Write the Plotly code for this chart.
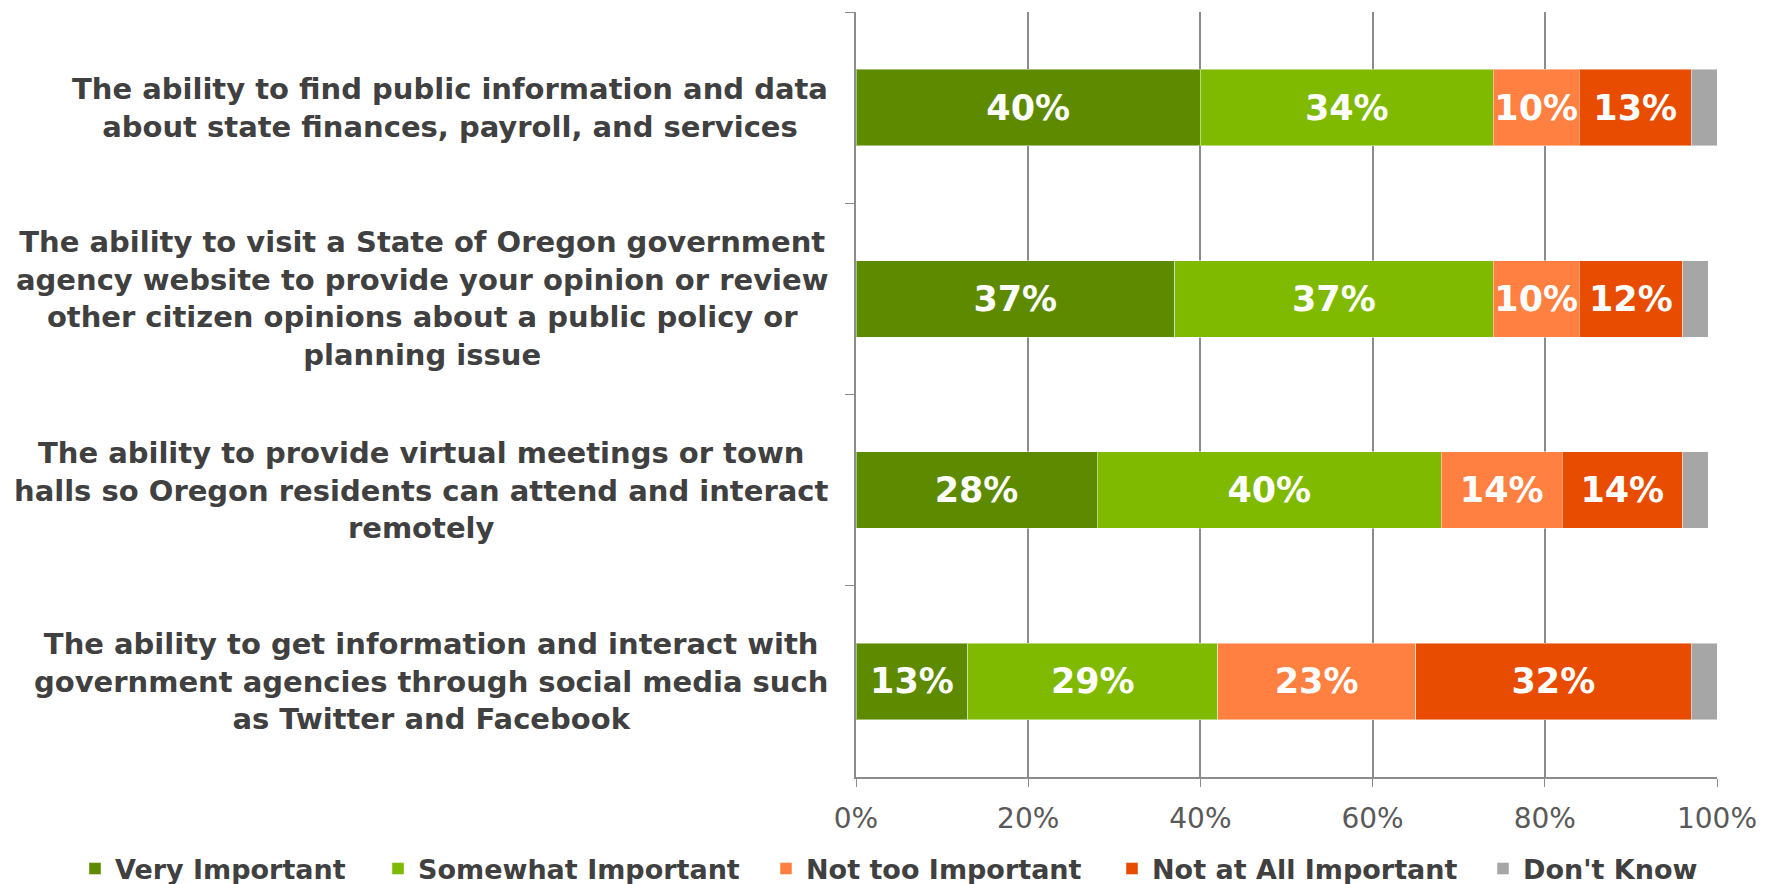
import plotly.graph_objects as go

categories = [
    "The ability to find public information and data<br>about state finances, payroll, and services",
    "The ability to visit a State of Oregon government<br>agency website to provide your opinion or review<br>other citizen opinions about a public policy or<br>planning issue",
    "The ability to provide virtual meetings or town<br>halls so Oregon residents can attend and interact<br>remotely",
    "The ability to get information and interact with<br>government agencies through social media such<br>as Twitter and Facebook",
]
series_names = ["Very Important", "Somewhat Important", "Not too Important", "Not at All Important", "Don't Know"]
very_important = [40, 37, 28, 13]
somewhat_important = [34, 37, 40, 29]
not_too_important = [10, 10, 14, 23]
not_at_all_important = [13, 12, 14, 32]
dont_know = [3, 3, 3, 3]
x_ticks = [0, 20, 40, 60, 80, 100]
x_tick_labels = ["0%", "20%", "40%", "60%", "80%", "100%"]

colors = ["#5E8A00", "#7FBA00", "#FF8040", "#E84C00", "#A6A6A6"]
series = [very_important, somewhat_important, not_too_important, not_at_all_important, dont_know]
legend_left_px = [67, 370, 758, 1104, 1475]

ykeys = [f"c{i}" for i in range(len(categories))]

FONT = "DejaVu Sans, Verdana, sans-serif"
W, H = 1769, 884

fig = go.Figure()
for i, (name, vals, col) in enumerate(zip(series_names, series, colors)):
    show_text = name != "Don't Know"
    lg = "legend" if i == 0 else f"legend{i+1}"
    fig.add_trace(go.Bar(
        y=ykeys, x=vals, name=name, orientation="h",
        marker=dict(color=col, line=dict(color="rgba(255,255,255,0.45)", width=1)),
        width=0.4,
        text=[f"{v}%" for v in vals] if show_text else None,
        textposition="inside" if show_text else "none",
        insidetextanchor="middle",
        constraintext="none",
        textfont=dict(family=FONT, size=35, color="white", weight="bold"),
        hoverinfo="skip",
        legend=lg,
    ))

for k, label in zip(ykeys, categories):
    fig.add_annotation(
        x=0, xref="paper", y=k, yref="y",
        text=f"<b>{label}</b>", showarrow=False,
        xanchor="right", yanchor="middle", align="center", xshift=-26,
        font=dict(family=FONT, size=29, color="#404040"),
    )

legend_common = dict(
    orientation="h", xref="container", yref="container",
    xanchor="left", yanchor="middle", y=1 - 861 / H,
    font=dict(family=FONT, size=27, color="#404040", weight="bold"),
    itemwidth=30, bgcolor="rgba(0,0,0,0)",
)
legends = {}
for i, px in enumerate(legend_left_px):
    key = "legend" if i == 0 else f"legend{i+1}"
    legends[key] = dict(legend_common, x=px / W)

fig.update_layout(
    width=W, height=H,
    margin=dict(l=848, r=60, t=4, b=115, autoexpand=False),
    barmode="stack",
    plot_bgcolor="white", paper_bgcolor="white",
    showlegend=True,
    xaxis=dict(
        range=[0, 100], tickvals=x_ticks, ticktext=x_tick_labels,
        showgrid=True, gridcolor="#8C8C8C", gridwidth=1.5,
        showline=True, linecolor="#8C8C8C", linewidth=1.5,
        ticks="outside", ticklen=8, tickcolor="#8C8C8C",
        tickfont=dict(family=FONT, size=28, color="#595959"),
        ticklabelstandoff=8, zeroline=False, fixedrange=True,
    ),
    yaxis=dict(
        categoryorder="array", categoryarray=ykeys, autorange="reversed",
        showticklabels=False, showgrid=False, zeroline=False,
        showline=True, linecolor="#8C8C8C", linewidth=1.5,
        ticks="outside", tickson="boundaries", ticklen=9, tickcolor="#8C8C8C",
        fixedrange=True,
    ),
    **legends,
)

fig.write_html("out.html")
